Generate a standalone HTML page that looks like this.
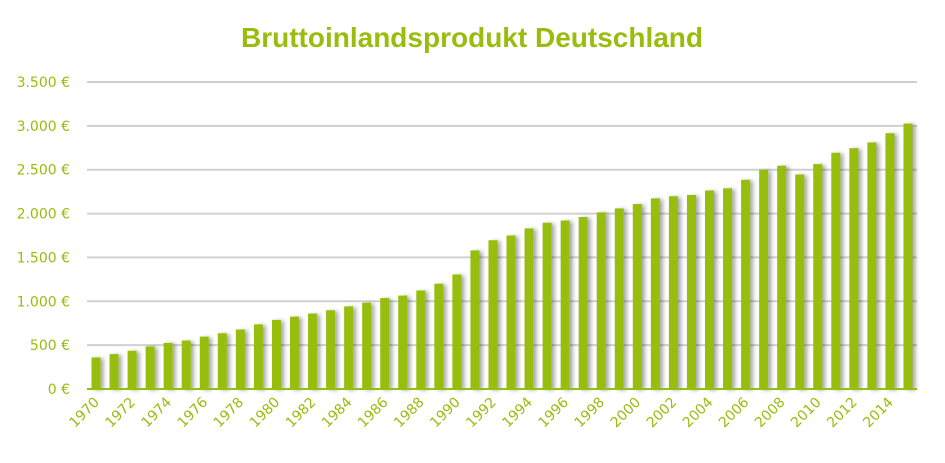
<!DOCTYPE html>
<html><head><meta charset="utf-8"><style>
body{margin:0;background:#fff;}
svg text{font-family:"DejaVu Sans","Liberation Sans",sans-serif;}
</style></head><body>
<svg id="chart" width="945" height="458" xmlns="http://www.w3.org/2000/svg">
<defs><filter id="sh" x="-50%" y="-10%" width="250%" height="130%"><feGaussianBlur in="SourceAlpha" stdDeviation="2"/><feOffset dx="3" dy="1"/><feComponentTransfer><feFuncA type="linear" slope="0.35"/></feComponentTransfer><feMerge><feMergeNode/><feMergeNode in="SourceGraphic"/></feMerge></filter></defs>
<text x="472" y="47" text-anchor="middle" font-size="28" font-weight="bold" fill="#97bd0d" style="font-family:'Liberation Sans',sans-serif">Bruttoinlandsprodukt Deutschland</text>
<g id="grid"></g><g id="bars"></g><g id="xl"></g>
</svg>
<script>
const years=[1970,1971,1972,1973,1974,1975,1976,1977,1978,1979,1980,1981,1982,1983,1984,1985,1986,1987,1988,1989,1990,1991,1992,1993,1994,1995,1996,1997,1998,1999,2000,2001,2002,2003,2004,2005,2006,2007,2008,2009,2010,2011,2012,2013,2014,2015];
const gdp=[360,398,436,486,526,552,597,636,678,737,788,825,860,898,942,984,1037,1065,1123,1200,1306,1580,1696,1750,1831,1895,1921,1961,2014,2059,2109,2173,2198,2212,2263,2288,2385,2500,2546,2446,2564,2693,2746,2811,2916,3026];
const yTicks=[0,500,1000,1500,2000,2500,3000,3500];
const yTickLabels=["0 €","500 €","1.000 €","1.500 €","2.000 €","2.500 €","3.000 €","3.500 €"];
const NS="http://www.w3.org/2000/svg";
const x0=87,x1=917,yB=389,yT=82,yMax=3500;
const y=v=>yB-(v/yMax)*(yB-yT);
const step=(x1-x0)/years.length;
const xc=i=>x0+step*(i+0.5);
function mk(t,a,p){const e=document.createElementNS(NS,t);for(const k in a)e.setAttribute(k,a[k]);p.appendChild(e);return e;}
const g=document.getElementById('grid'),b=document.getElementById('bars'),xl=document.getElementById('xl');
yTicks.forEach((v,i)=>{
 if(v>0){const l=mk('line',{x1:x0,x2:x1,y1:y(v),y2:y(v),stroke:'#d0d0d0','stroke-width':2},g);
 
 }
 const t=mk('text',{x:70,y:y(v)+5,'text-anchor':'end','font-size':14,fill:'#97bd0d'},g);t.textContent=yTickLabels[i];
 
 
});
gdp.forEach((v,i)=>{
 const r=mk('rect',{x:xc(i)-4.5,y:y(v),width:9,height:yB-y(v),fill:'#97bd0d',filter:'url(#sh)'},b);
 
 
 if(i%2===0){const t=mk('text',{x:xc(i)+4,y:403,'text-anchor':'end','font-size':14,fill:'#97bd0d',transform:`rotate(-45 ${xc(i)+4} 403)`},xl);t.textContent=years[i];
 
 }
});
const ax=mk('line',{x1:x0,x2:x1,y1:yB,y2:yB,stroke:'#97bd0d','stroke-width':2},b);


</script>
</body></html>
